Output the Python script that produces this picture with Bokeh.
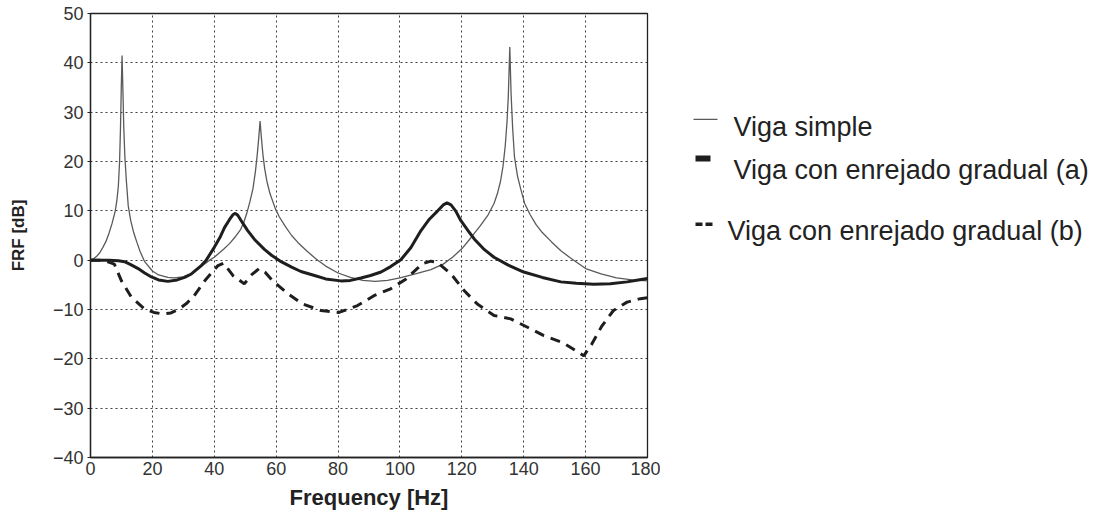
from bokeh.plotting import figure
from bokeh.models import Range1d, FixedTicker
from bokeh.layouts import row
from bokeh.core.properties import value
from bokeh.embed import file_html
from bokeh.resources import INLINE

# ---------------- data ----------------
simple_x = [0, 1, 2, 3, 4, 5, 6, 7, 8, 8.5, 9, 9.4, 9.7, 9.95, 10.2, 10.45, 10.75, 11.1, 11.6, 12.2, 13, 14,
            15, 16, 17.5, 20, 22, 25, 27, 30, 33, 36, 38.5, 40, 43, 45, 47, 48.5, 49.5, 50.5, 51.5, 52.5, 53.3,
            53.9, 54.4, 54.8, 55.2, 55.7, 56.3, 57, 58, 59.7, 61, 63, 65, 67, 70, 73, 76, 80, 84, 88, 92, 96,
            100, 105, 110, 114, 117, 120, 123, 126, 128.5, 130.4, 131.5, 132.5, 133.3, 134, 134.6, 135,
            135.5, 135.9, 136.4, 137, 138, 139, 140.3, 142, 144, 146, 149, 152, 155, 160, 165, 170, 175, 180]
simple_y = [0, 0.3, 0.8, 1.5, 2.6, 3.8, 5.5, 7.5, 10, 12, 15, 20, 27, 35, 41.5, 35, 27, 21, 16, 11, 8, 5.5,
            3.6, 1.8, -0.3, -2.2, -3, -3.5, -3.6, -3.4, -2.6, -1.2, 0, 0.6, 2.2, 3.4, 4.9, 6.2, 7.6, 9.5, 11.8,
            14.5, 18, 21.5, 25, 28.2, 25, 21.5, 18.5, 16, 13.5, 10.5, 8.8, 6.8, 5, 3.6, 1.8, 0.2, -1.2, -2.6,
            -3.5, -4.1, -4.3, -4.1, -3.6, -2.8, -1.9, -0.8, 0.6, 2.3, 4.6, 7, 9.2, 11.5, 13.5, 16, 19, 23, 28,
            33, 43.2, 34, 27, 21, 17, 14.5, 11.5, 9.3, 7.2, 5.6, 3.7, 1.9, 0.5, -1.7, -2.8, -3.6, -4, -4.2]

grad_a_x = [0, 3, 6, 9, 11, 13, 15.4, 17.5, 19.7, 22, 25, 28, 30.4, 32.6, 35.8, 37.4, 40, 42, 43.3, 45, 46,
            46.8, 47.6, 48.5, 50.8, 53, 56.2, 58.5, 61.6, 65, 68, 72.4, 76, 80.9, 84, 87.4, 90.5, 93.9, 97,
            100.3, 103.5, 106.8, 109.5, 112.2, 114, 115.2, 116.5, 118, 119.7, 122, 124, 127, 130.4, 135, 140,
            146, 152, 157, 162.6, 168, 173.4, 177, 180]
grad_a_y = [0, 0, 0, -0.1, -0.3, -0.9, -1.7, -2.6, -3.4, -4, -4.3, -4, -3.5, -2.8, -1.1, 0, 2.6, 4.8, 6.6,
            8.3, 9.2, 9.5, 9.1, 8.2, 6, 4.2, 2.2, 1, -0.3, -1.4, -2.3, -3.1, -3.8, -4.2, -4.1, -3.6, -3.1,
            -2.4, -1.3, 0.1, 2.5, 6, 8.3, 10, 11.2, 11.6, 11.2, 10, 8, 6, 4.3, 2.3, 0.6, -1, -2.4, -3.5,
            -4.4, -4.7, -4.9, -4.8, -4.4, -4.0, -3.7]

grad_b_x = [0, 3, 5, 7.7, 10, 13.2, 17.5, 20.5, 23.4, 26, 28.6, 31, 33.5, 37.4, 41.2, 43, 46, 49.7, 52, 54.5,
            56.5, 58.9, 63.8, 68.6, 74.5, 80.3, 86.3, 89, 91.6, 97, 102, 107.3, 110, 112, 116.5, 120.8, 125,
            130.4, 135.8, 141.2, 146.5, 152.5, 157.8, 159.4, 162, 165.3, 169, 173.4, 177.7, 180]
grad_b_y = [0, 0, -0.2, -0.8, -4.2, -7.5, -9.9, -10.6, -10.9, -10.7, -9.9, -8.8, -7.2, -3.8, -1.1, -0.6, -3.1,
            -4.8, -3, -1.7, -2.5, -4.2, -6.8, -8.9, -10.2, -10.6, -9.2, -8.2, -7.2, -5.8, -3.8, -0.7, -0.2,
            -0.4, -2.8, -6.2, -8.9, -11.2, -11.9, -13.6, -15.3, -16.7, -18.7, -19.4, -17, -13.3, -10.2, -8.5,
            -7.8, -7.6]

x_ticks = [0, 20, 40, 60, 80, 100, 120, 140, 160, 180]
y_ticks = [-40, -30, -20, -10, 0, 10, 20, 30, 40, 50]
y_tick_labels = ["\u221240", "\u221230", "\u221220", "\u221210", "0", "10", "20", "30", "40", "50"]
legend_labels = ["Viga simple", "Viga con enrejado gradual (a)", "Viga con enrejado gradual (b)"]
x_label = "Frequency [Hz]"
y_label = "FRF [dB]"

FONT = "Liberation Sans"

# ---------------- main plot ----------------
p = figure(width=660, height=516, x_range=Range1d(0, 180), y_range=Range1d(-40, 50),
           output_backend="svg", toolbar_location=None, title=None,
           min_border_left=90, min_border_right=13, min_border_top=13, min_border_bottom=59)
p.background_fill_color = "white"
p.border_fill_color = "white"
p.outline_line_color = "#222222"
p.outline_line_width = 1.3

p.xaxis.ticker = FixedTicker(ticks=x_ticks)
p.yaxis.ticker = FixedTicker(ticks=y_ticks)
p.yaxis.major_label_overrides = {t: l for t, l in zip(y_ticks, y_tick_labels)}

for ax in (p.xaxis[0], p.yaxis[0]):
    ax.axis_line_color = "#222222"
    ax.axis_line_width = 1.3
    ax.major_tick_line_color = "#222222"
    ax.minor_tick_line_color = None
    ax.major_label_text_font = FONT
    ax.major_label_text_font_size = "18px"
    ax.major_label_text_color = "#333333"
    ax.axis_label_text_font = FONT
    ax.axis_label_text_font_style = "bold"
    ax.axis_label_text_color = "#222222"

p.xaxis.major_tick_in = 0
p.xaxis.major_tick_out = 0
p.xaxis.major_label_standoff = 4
p.xaxis.axis_label = x_label
p.xaxis.axis_label_text_font_size = "22px"
p.xaxis.axis_label_standoff = 7

p.yaxis.major_tick_in = 0
p.yaxis.major_tick_out = 3
p.yaxis.major_label_standoff = 4
p.yaxis.axis_label = y_label
p.yaxis.axis_label_text_font_size = "17px"
p.yaxis.axis_label_standoff = 22

p.xgrid[0].ticker = FixedTicker(ticks=x_ticks)
p.ygrid[0].ticker = FixedTicker(ticks=y_ticks)
for g in (p.xgrid[0], p.ygrid[0]):
    g.grid_line_color = "#2a2a2a"
    g.grid_line_width = 1
    g.grid_line_dash = "2 3"
    g.grid_line_alpha = 0.9

p.line(simple_x, simple_y, line_color="#5a5a5a", line_width=1.3)
p.line(grad_a_x, grad_a_y, line_color="#1e1e1e", line_width=3)
p.line(grad_b_x, grad_b_y, line_color="#1e1e1e", line_width=3, line_dash="10 7")

# ---------------- legend panel ----------------
q = figure(width=436, height=516, x_range=Range1d(660, 1096), y_range=Range1d(516, 0),
           output_backend="svg", toolbar_location=None, title=None,
           min_border_left=0, min_border_right=0, min_border_top=0, min_border_bottom=0)
q.axis.visible = False
q.grid.visible = False
q.outline_line_color = None
q.background_fill_color = "white"
q.border_fill_color = "white"

q.segment(x0=[693], y0=[123], x1=[717], y1=[123], line_color="#5a5a5a", line_width=1.3)
q.segment(x0=[695], y0=[168.5], x1=[710], y1=[168.5], line_color="#1e1e1e", line_width=6, line_cap="butt")
q.segment(x0=[695], y0=[245], x1=[712], y1=[245], line_color="#1e1e1e", line_width=3.5, line_dash="7 3")
q.text(x=[733, 733, 727], y=[132, 182, 253], text=legend_labels, text_baseline="alphabetic",
       text_font=value(FONT), text_font_size="27px", text_color="#222222")

layout = row(p, q)
open("out.html", "w").write(file_html(layout, INLINE))
